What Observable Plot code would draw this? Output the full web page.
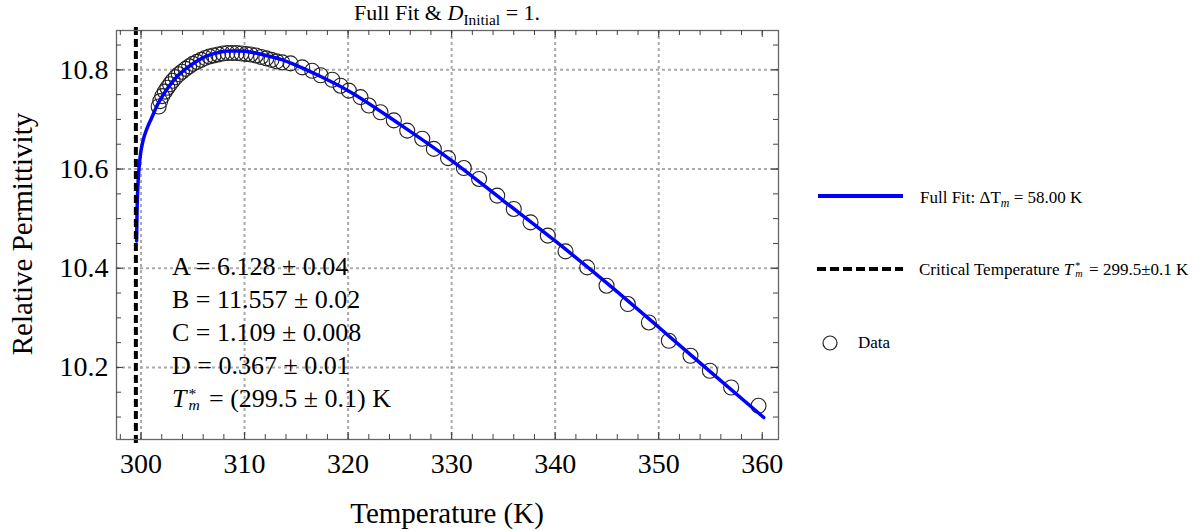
<!DOCTYPE html>
<html>
<head>
<meta charset="utf-8">
<script src="https://cdn.jsdelivr.net/npm/d3@7"></script>
<script src="https://cdn.jsdelivr.net/npm/@observablehq/plot@0.6"></script>
<style>
  html, body { margin: 0; padding: 0; background: #fff; }
  #wrap { position: relative; width: 1199px; height: 531px; overflow: hidden;
          font-family: "Liberation Serif", "Times New Roman", serif; color: #000; }
  #chart { position: absolute; left: 0; top: 0; }
  #chart svg text { font-family: "Liberation Serif", "Times New Roman", serif; }
  .abs { position: absolute; white-space: nowrap; }
  .ss { display: inline-block; vertical-align: middle; position: relative;
        width: 0.5em; height: 1em; margin-left: 2px; margin-right: 1px; }
  .ss .sup { position: absolute; left: 0; top: -0.14em; font-size: 0.6em; line-height: 1; }
  .ss .sb { position: absolute; left: 0; top: 0.6em; font-size: 0.6em; line-height: 1; }
  .sub { font-size: 0.7em; vertical-align: -0.3em; line-height: 0; }
  .ann div { height: 33px; line-height: 33px; }
  .leg { font-size: 17px; line-height: 24px; height: 24px; }
</style>
</head>
<body>
<div id="wrap">
  <div id="chart"></div>
  <div class="abs" style="left:116px; width:662px; top:0px; text-align:center; font-size:22px; line-height:26px;">Full Fit &amp; <i>D</i><span class="sub">Initial</span> = 1.</div>
  <div class="abs" style="left:-128px; top:217px; width:300px; height:34px; line-height:34px; text-align:center; font-size:29px; transform:rotate(-90deg);">Relative Permittivity</div>
  <div class="abs" style="left:297px; width:300px; top:496px; height:34px; line-height:34px; text-align:center; font-size:29px;">Temperature (K)</div>
  <div class="abs ann" style="left:172px; top:250px; font-size:26px;">
    <div>A = 6.128 ± 0.04</div>
    <div>B = 11.557 ± 0.02</div>
    <div>C = 1.109 ± 0.008</div>
    <div>D = 0.367 ± 0.01</div>
    <div><i>T</i><span class="ss"><span class="sup">*</span><i class="sb">m</i></span> = (299.5 ± 0.1) K</div>
  </div>
  <!-- legend -->
  <svg class="abs" style="left:815px; top:186px;" width="92" height="170">
    <line x1="3" x2="88" y1="10" y2="10" stroke="#0000ff" stroke-width="4"></line>
    <line x1="2" x2="88" y1="83" y2="83" stroke="#000" stroke-width="4" stroke-dasharray="9,4"></line>
    <circle cx="15" cy="157" r="7" fill="none" stroke="#222" stroke-width="1.2"></circle>
  </svg>
  <div class="abs leg" style="left:920px; top:186px;">Full Fit: ΔT<span class="sub"><i>m</i></span> = 58.00 K</div>
  <div class="abs leg" style="left:919px; top:258px;">Critical Temperature <i>T</i><span class="ss"><span class="sup">*</span><i class="sb">m</i></span> = 299.5±0.1 K</div>
  <div class="abs leg" style="left:858px; top:331px;">Data</div>
</div>
<script>
// ---- data ----
const dataT = [301.70, 301.85, 302.05, 302.30, 302.55, 302.80, 303.05, 303.35, 303.65, 303.95,
  304.30, 304.65, 305.00, 305.40, 305.80, 306.20, 306.60, 307.00, 307.45, 307.90,
  308.35, 308.80, 309.25, 309.70, 310.15, 310.60, 311.10, 311.60, 312.10, 312.60,
  313.10, 313.64, 314.44, 315.57, 316.53, 317.34, 318.47, 319.27, 320.07, 321.20,
  322.00, 323.13, 324.42, 325.71, 327.16, 328.28, 329.65, 331.18, 332.65, 334.40,
  336.00, 337.62, 339.29, 341.00, 343.09, 344.96, 347.02, 349.05, 350.98, 353.07,
  354.94, 357.00, 359.64];
const dataEps = [10.726, 10.737, 10.747, 10.756, 10.764, 10.771, 10.778, 10.785, 10.791, 10.796,
  10.802, 10.807, 10.812, 10.816, 10.820, 10.824, 10.827, 10.829, 10.831, 10.833,
  10.834, 10.834, 10.834, 10.833, 10.832, 10.831, 10.829, 10.826, 10.823, 10.820,
  10.817, 10.815, 10.813, 10.805, 10.798, 10.789, 10.780, 10.768, 10.758, 10.745,
  10.728, 10.7145, 10.698, 10.6775, 10.661, 10.6406, 10.622, 10.602, 10.580, 10.5464,
  10.5195, 10.4925, 10.4657, 10.434, 10.4017, 10.3648, 10.3278, 10.2907, 10.2538, 10.2235,
  10.1933, 10.1596, 10.1226];
const fitT = [299.57, 299.62, 299.72, 299.90, 300.20, 300.60, 301.00, 301.60, 302.50, 303.50,
  304.50, 305.50, 306.50, 307.50, 308.50, 309.50, 310.50, 311.50, 312.50, 313.50,
  315.00, 317.00, 320.00, 325.00, 330.00, 335.00, 340.00, 345.00, 350.00, 355.00, 360.15];
const fitEps = [10.455, 10.520, 10.575, 10.622, 10.658, 10.683, 10.702, 10.730, 10.761, 10.787,
  10.805, 10.819, 10.829, 10.835, 10.838, 10.838, 10.836, 10.832, 10.827, 10.821,
  10.809, 10.790, 10.758, 10.690, 10.617, 10.536, 10.455, 10.370, 10.281, 10.191, 10.099];
const Tstar = [299.5];
const xTickValues = [300, 310, 320, 330, 340, 350, 360];
const yTickValues = [10.2, 10.4, 10.6, 10.8];
const xGridValues = [300, 310, 320, 330, 340, 350];
const xMinorValues = d3.range(298, 361, 2);
const yMinorValues = d3.range(10.1, 10.87, 0.05).map(v => +v.toFixed(2));

const points = dataT.map((t, i) => ({t, e: dataEps[i]}));
const fit = fitT.map((t, i) => ({t, e: fitEps[i]}));

const W = 800, H = 531, mL = 116, mR = 22, mT = 30, mB = 92;
const fW = W - mL - mR, fH = H - mT - mB;
const tickCol = "#444";
const serif = "Liberation Serif";

const chart = Plot.plot({
  width: W, height: H,
  marginLeft: mL, marginRight: mR, marginTop: mT, marginBottom: mB,
  style: {fontFamily: serif, fontSize: "28px", color: "#000", background: "transparent", overflow: "visible"},
  x: {domain: [297.63, 361.57]},
  y: {domain: [10.0547, 10.8793]},
  marks: [
    Plot.gridX(xGridValues, {stroke: "#aaa", strokeOpacity: 1, strokeWidth: 2, strokeDasharray: "3,3"}),
    Plot.gridY(yTickValues, {stroke: "#aaa", strokeOpacity: 1, strokeWidth: 2, strokeDasharray: "3,3"}),
    Plot.dot(points, {x: "t", y: "e", r: 7.5, stroke: "#222", strokeWidth: 1.1, fill: "none"}),
    Plot.line(fit, {x: "t", y: "e", stroke: "#0000ff", strokeWidth: 3.5, curve: "monotone-x"}),
    Plot.ruleX(Tstar, {stroke: "#000", strokeWidth: 4, strokeDasharray: "8,4", insetTop: -3, insetBottom: -7}),
    Plot.frame({stroke: "#666", strokeWidth: 1.3}),
    // inward ticks: bottom / top
    Plot.tickX(xTickValues, {stroke: tickCol, insetTop: fH - 7}),
    Plot.tickX(xTickValues, {stroke: tickCol, insetBottom: fH - 7}),
    Plot.tickX(xMinorValues, {stroke: tickCol, insetTop: fH - 5}),
    Plot.tickX(xMinorValues, {stroke: tickCol, insetBottom: fH - 5}),
    // inward ticks: left / right
    Plot.tickY(yTickValues, {stroke: tickCol, insetRight: fW - 7}),
    Plot.tickY(yTickValues, {stroke: tickCol, insetLeft: fW - 7}),
    Plot.tickY(yMinorValues, {stroke: tickCol, insetRight: fW - 5}),
    Plot.tickY(yMinorValues, {stroke: tickCol, insetLeft: fW - 5}),
    Plot.axisX({anchor: "bottom", ticks: xTickValues, tickSize: 0, tickPadding: 14, fontSize: 28, fontFamily: serif, fill: "#000", label: null, tickFormat: d => String(d)}),
    Plot.axisY({anchor: "left", ticks: yTickValues, tickSize: 0, tickPadding: 8, fontSize: 28, fontFamily: serif, fill: "#000", label: null, tickFormat: d => d.toFixed(1)})
  ]
});
document.getElementById("chart").appendChild(chart);
</script>
</body>
</html>
